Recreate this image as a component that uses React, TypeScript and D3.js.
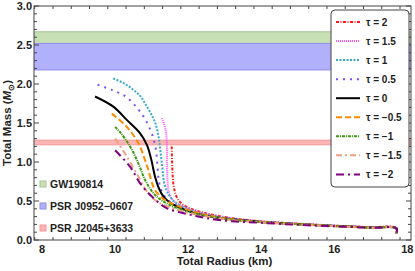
import React, { useEffect, useRef } from 'react';
import * as d3 from 'd3';

// tau values and styles of the nine mass-radius curves
const tauLabels = ['2', '1.5', '1', '0.5', '0', '\u22120.5', '\u22121', '\u22121.5', '\u22122'];
const curveColors = ['#ff1a1a', '#ff4dff', '#3aaac8', '#7a4dff', '#000000', '#ff8a00', '#3a9a10', '#f0a080', '#800080'];
const curveDash = ['3,1.5,1,1.5', '1,1', '2,1.5', '2,5', '', '6,3', '3,1,1,1', '6,3,2,3', '8,4,2,4'];

// radius (km) and mass (Msun) for each tau
const radius2 = [11.55, 11.56, 11.58, 11.62, 11.72, 11.9, 12.2, 12.6, 13.2, 14, 15, 16, 17, 17.7, 17.7];
const mass2 = [1.2, 1.0, 0.8, 0.65, 0.52, 0.44, 0.38, 0.33, 0.28, 0.24, 0.21, 0.185, 0.165, 0.155, 0.08];
const radius15 = [11.28, 11.38, 11.42, 11.42, 11.43, 11.47, 11.6, 11.85, 12.2, 12.6, 13.2, 14, 15, 16, 17, 17.7, 17.7];
const mass15 = [1.56, 1.42, 1.2, 1.0, 0.8, 0.62, 0.5, 0.43, 0.37, 0.32, 0.275, 0.238, 0.208, 0.183, 0.163, 0.153, 0.08];
const radius1 = [9.95, 10.2, 10.46, 10.68, 10.82, 10.98, 11.1, 11.2, 11.25, 11.3, 11.35, 11.47, 11.65, 11.9, 12.2, 12.6, 13.2, 14, 15, 16, 17, 17.7, 17.7];
const mass1 = [2.07, 2.02, 1.94, 1.85, 1.75, 1.62, 1.5, 1.3, 1.1, 0.9, 0.72, 0.58, 0.48, 0.42, 0.36, 0.315, 0.27, 0.235, 0.206, 0.182, 0.162, 0.152, 0.08];
const radius05 = [9.52, 9.93, 10.29, 10.59, 10.82, 11.0, 11.11, 11.16, 11.2, 11.3, 11.5, 11.8, 12.2, 12.6, 13.2, 14, 15, 16, 17, 17.7, 17.7];
const mass05 = [1.99, 1.92, 1.84, 1.7, 1.55, 1.37, 1.18, 0.95, 0.75, 0.6, 0.49, 0.42, 0.36, 0.31, 0.27, 0.234, 0.205, 0.181, 0.161, 0.151, 0.08];
const radius0 = [9.45, 9.95, 10.32, 10.68, 10.87, 10.98, 11.1, 11.2, 11.32, 11.5, 11.69, 12.14, 12.6, 13.2, 14, 15, 16, 17, 17.7, 17.7];
const mass0 = [1.84, 1.71, 1.54, 1.37, 1.22, 1.05, 0.8, 0.66, 0.56, 0.48, 0.43, 0.35, 0.3, 0.265, 0.232, 0.204, 0.18, 0.16, 0.15, 0.08];
const radiusM05 = [9.91, 10.32, 10.64, 10.8, 10.91, 11.05, 11.23, 11.45, 11.69, 12.1, 12.6, 13.2, 14, 15, 16, 17, 17.7, 17.7];
const massM05 = [1.62, 1.45, 1.24, 1.05, 0.9, 0.68, 0.56, 0.49, 0.44, 0.37, 0.31, 0.265, 0.231, 0.203, 0.179, 0.159, 0.15, 0.08];
const radiusM1 = [10.0, 10.14, 10.41, 10.64, 10.82, 11.05, 11.3, 11.69, 12.1, 12.6, 13.2, 14, 15, 16, 17, 17.7, 17.7];
const massM1 = [1.45, 1.38, 1.2, 0.98, 0.77, 0.6, 0.5, 0.41, 0.35, 0.3, 0.26, 0.229, 0.202, 0.178, 0.158, 0.149, 0.08];
const radiusM15 = [10.0, 10.32, 10.64, 10.87, 11.05, 11.23, 11.5, 11.9, 12.4, 13.2, 14, 15, 16, 17, 17.7, 17.7];
const massM15 = [1.3, 1.07, 0.81, 0.62, 0.53, 0.47, 0.42, 0.36, 0.31, 0.255, 0.227, 0.2, 0.177, 0.157, 0.148, 0.08];
const radiusM2 = [10.0, 10.41, 10.68, 11.0, 11.41, 12.0, 12.5, 13.2, 14, 15, 16, 17, 17.7, 17.7];
const massM2 = [1.15, 0.94, 0.73, 0.56, 0.41, 0.33, 0.28, 0.24, 0.22, 0.195, 0.175, 0.158, 0.148, 0.08];

const radii = [radius2, radius15, radius1, radius05, radius0, radiusM05, radiusM1, radiusM15, radiusM2];
const masses = [mass2, mass15, mass1, mass05, mass0, massM05, massM1, massM15, massM2];

// observational mass bands
const bandNames = ['GW190814', 'PSR J0952\u22120607', 'PSR J2045+3633'];
const bandLow = [2.5, 2.18, 1.22];
const bandHigh = [2.67, 2.52, 1.28];
const bandFill = ['#c6dfb5', '#b0b0fd', '#ffb3b3'];
const bandEdge = ['#a8c898', '#9090e8', '#f09a9a'];

const xTicks = [8, 10, 12, 14, 16, 18];
const yTicks = [0, 0.5, 1, 1.5, 2, 2.5, 3];

const W = 415, H = 271;
const FONT = "'Liberation Sans', Arial, sans-serif";

export default function App() {
  const ref = useRef<SVGSVGElement>(null);

  useEffect(() => {
    const svg = d3.select(ref.current);
    svg.selectAll('*').remove();

    const left = 34, right = 411, top = 6, bottom = 240;
    const x = d3.scaleLinear().domain([7.78, 18.1]).range([left, right]);
    const y = d3.scaleLinear().domain([0, 3]).range([bottom, top]);

    svg.append('rect').attr('width', W).attr('height', H).attr('fill', '#fff');

    // bands
    bandNames.forEach((n, i) => {
      svg.append('rect')
        .attr('x', left).attr('width', right - left)
        .attr('y', y(bandHigh[i])).attr('height', y(bandLow[i]) - y(bandHigh[i]))
        .attr('fill', bandFill[i]);
      [bandLow[i], bandHigh[i]].forEach(v => {
        svg.append('line')
          .attr('x1', left).attr('x2', right)
          .attr('y1', y(v)).attr('y2', y(v))
          .attr('stroke', bandEdge[i]).attr('stroke-width', 1);
      });
    });

    // curves
    const line = d3.line<number>()
      .x(d => d)
      .y(d => d)
      .curve(d3.curveCatmullRom.alpha(0.5));

    radii.forEach((rs, i) => {
      const pts = rs.map((r, j) => [x(r), y(masses[i][j])] as [number, number]);
      svg.append('path')
        .attr('d', d3.line().curve(d3.curveCatmullRom.alpha(0.5))(pts))
        .attr('fill', 'none')
        .attr('stroke', curveColors[i])
        .attr('stroke-width', 2)
        .attr('stroke-dasharray', curveDash[i] || null);
    });

    // frame + ticks
    const frame = svg.append('g').attr('stroke', '#444').attr('stroke-width', 1);
    frame.append('rect')
      .attr('x', left).attr('y', top)
      .attr('width', right - left).attr('height', bottom - top)
      .attr('fill', 'none');

    d3.range(7.8, 18.11, 0.5).forEach(v => {
      const major = xTicks.some(t => Math.abs(t - v) < 1e-6);
      const len = major ? 5 : 3;
      frame.append('line').attr('x1', x(v)).attr('x2', x(v)).attr('y1', bottom).attr('y2', bottom - len);
      frame.append('line').attr('x1', x(v)).attr('x2', x(v)).attr('y1', top).attr('y2', top + len);
    });
    d3.range(0, 3.001, 0.1).forEach(v => {
      const major = yTicks.some(t => Math.abs(t - v) < 1e-6);
      const len = major ? 5 : 3;
      frame.append('line').attr('y1', y(v)).attr('y2', y(v)).attr('x1', left).attr('x2', left + len);
      frame.append('line').attr('y1', y(v)).attr('y2', y(v)).attr('x1', right).attr('x2', right - len);
    });

    svg.append('g').selectAll('text').data(xTicks).join('text')
      .attr('x', d => x(d)).attr('y', bottom + 13)
      .attr('text-anchor', 'middle')
      .attr('font-family', FONT).attr('font-size', 11).attr('font-weight', 'bold')
      .attr('fill', '#222')
      .text(d => d);

    svg.append('g').selectAll('text').data(yTicks).join('text')
      .attr('x', left - 2).attr('y', d => y(d) + 4)
      .attr('text-anchor', 'end')
      .attr('font-family', FONT).attr('font-size', 11).attr('font-weight', 'bold')
      .attr('fill', '#222')
      .text(d => d.toFixed(1));

    // axis titles
    svg.append('text')
      .attr('x', (left + right) / 2 + 2).attr('y', 265)
      .attr('text-anchor', 'middle')
      .attr('font-family', FONT).attr('font-size', 11.5).attr('font-weight', 'bold')
      .attr('fill', '#222')
      .text('Total Radius (km)');

    const yt = svg.append('text')
      .attr('transform', `translate(11,${(top + bottom) / 2}) rotate(-90)`)
      .attr('text-anchor', 'middle')
      .attr('font-family', FONT).attr('font-size', 11.5).attr('font-weight', 'bold')
      .attr('fill', '#222');
    yt.append('tspan').text('Total Mass (');
    yt.append('tspan').attr('font-style', 'italic').text('M');
    yt.append('tspan').attr('font-size', 8).attr('dy', 3).text('\u2299');
    yt.append('tspan').attr('dy', -3).text(')');

    // band legend
    const bandY = [184, 206, 228];
    bandNames.forEach((n, i) => {
      svg.append('rect')
        .attr('x', 40).attr('y', bandY[i] - 3).attr('width', 6).attr('height', 6)
        .attr('fill', bandFill[i]).attr('stroke', bandEdge[i]);
      svg.append('text')
        .attr('x', 50).attr('y', bandY[i] + 4)
        .attr('font-family', FONT).attr('font-size', 10.5).attr('font-weight', 'bold')
        .attr('fill', '#222')
        .text(n);
    });

    // tau legend
    const lg = svg.append('g');
    lg.append('rect')
      .attr('x', 331).attr('y', 10).attr('width', 78).attr('height', 177)
      .attr('rx', 4).attr('fill', '#fff').attr('stroke', '#444');
    tauLabels.forEach((t, i) => {
      const yy = 22 + i * 19.05;
      lg.append('line')
        .attr('x1', 336).attr('x2', 360).attr('y1', yy).attr('y2', yy)
        .attr('stroke', curveColors[i]).attr('stroke-width', 2)
        .attr('stroke-dasharray', curveDash[i] || null);
      lg.append('text')
        .attr('x', 366).attr('y', yy + 3.5)
        .attr('font-family', FONT).attr('font-size', 10).attr('font-weight', 'bold')
        .attr('fill', '#222')
        .text(`\u03c4 = ${t}`);
    });
  }, []);

  return (
    <svg ref={ref} width={W} height={H} style={{ position: 'absolute', left: 0, top: 0 }} />
  );
}
